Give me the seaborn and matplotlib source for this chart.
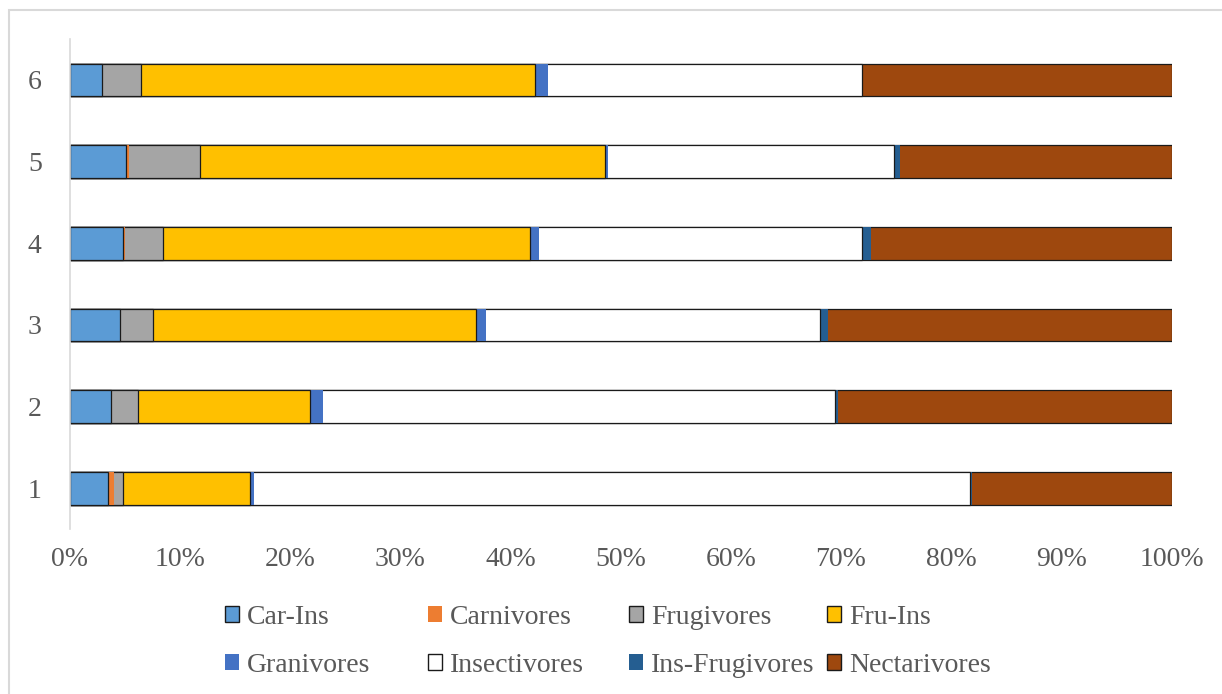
import matplotlib
matplotlib.use("Agg")
import matplotlib.pyplot as plt
from matplotlib.patches import Patch, Rectangle
import numpy as np
import pandas as pd
import seaborn as sns

# Sites (top to bottom as drawn)
sites = ["6", "5", "4", "3", "2", "1"]

# Percentage share of each feeding guild per site (same order as `sites`)
car_ins = [2.95, 5.15, 4.84, 4.59, 3.79, 3.51]
carnivores = [0.0, 0.25, 0.20, 0.0, 0.0, 0.49]
frugivores = [3.58, 6.40, 3.41, 3.02, 2.43, 0.83]
fru_ins = [35.70, 36.75, 33.37, 29.31, 15.63, 11.52]
granivores = [1.18, 0.35, 0.80, 0.83, 1.11, 0.42]
insectivores = [28.50, 25.90, 29.28, 30.38, 46.51, 64.91]
ins_frugivores = [0.0, 0.53, 0.83, 0.66, 0.27, 0.21]
nectarivores = [28.09, 24.67, 27.27, 31.21, 30.26, 18.11]

guilds = ["Car-Ins", "Carnivores", "Frugivores", "Fru-Ins",
          "Granivores", "Insectivores", "Ins-Frugivores", "Nectarivores"]
values = [car_ins, carnivores, frugivores, fru_ins,
          granivores, insectivores, ins_frugivores, nectarivores]
colors = ["#5B9BD5", "#ED7D31", "#A5A5A5", "#FFC000",
          "#4472C4", "#FFFFFF", "#255E91", "#9E480E"]
outlined = [True, False, True, True, False, True, False, True]

sns.set_theme(style="white")
plt.rcParams["font.family"] = ["Liberation Serif", "DejaVu Serif"]

df = pd.DataFrame({g: v for g, v in zip(guilds, values)})
df["site"] = sites
# normalise each row to 100 %
tot = df[guilds].sum(axis=1)
df[guilds] = df[guilds].div(tot, axis=0) * 100
cum = df[guilds].cumsum(axis=1)
cum["site"] = sites

fig = plt.figure(figsize=(12.22, 6.94), dpi=100)
ax = fig.add_axes([69.5 / 1222, 1 - 529 / 694, (1171.7 - 69.5) / 1222, 490 / 694])

# stacked bars: draw cumulative totals from the largest down
for g, c, o in reversed(list(zip(guilds, colors, outlined))):
    sns.barplot(data=cum, x=g, y="site", order=sites, color=c,
                saturation=1, width=0.4, errorbar=None, orient="h",
                edgecolor="#1a1a1a" if o else c,
                linewidth=0.9 if o else 0, ax=ax)

ax.set_xlim(0, 100)
ax.set_ylim(5.5, -0.5)
ax.set_xlabel("")
ax.set_ylabel("")
ax.set_xticks(np.arange(0, 101, 10))
ax.set_xticklabels([f"{t}%" for t in range(0, 101, 10)])
ax.tick_params(axis="x", length=0, pad=13, labelsize=20, labelcolor="#595959")
ax.tick_params(axis="y", length=0, pad=20, labelsize=20, labelcolor="#595959")
for s in ["top", "right", "bottom"]:
    ax.spines[s].set_visible(False)
ax.spines["left"].set_color("#D9D9D9")
ax.spines["left"].set_linewidth(1.2)

# legend entries laid out on an even grid
col_x = [225, 428, 629, 827]
row_y = [617, 665]
for i, (g, c, o) in enumerate(zip(guilds, colors, outlined)):
    r, k = divmod(i, 4)
    h = Patch(facecolor=c, edgecolor="#1a1a1a" if o else c, linewidth=1.0 if o else 0)
    fig.legend(handles=[h], labels=[g], loc="center left",
               bbox_to_anchor=(col_x[k] / 1222, 1 - row_y[r] / 694),
               frameon=False, fontsize=20, handlelength=0.5, handleheight=0.5,
               handletextpad=0.3, borderpad=0, borderaxespad=0,
               labelcolor="#595959")

# chart area border
fig.add_artist(Rectangle((9 / 1222, -0.1), 1.2, 1 - 10 / 694 + 0.1,
                         transform=fig.transFigure, fill=False,
                         edgecolor="#D9D9D9", linewidth=1.5))

fig.savefig("out.png", dpi=100, facecolor="white")
